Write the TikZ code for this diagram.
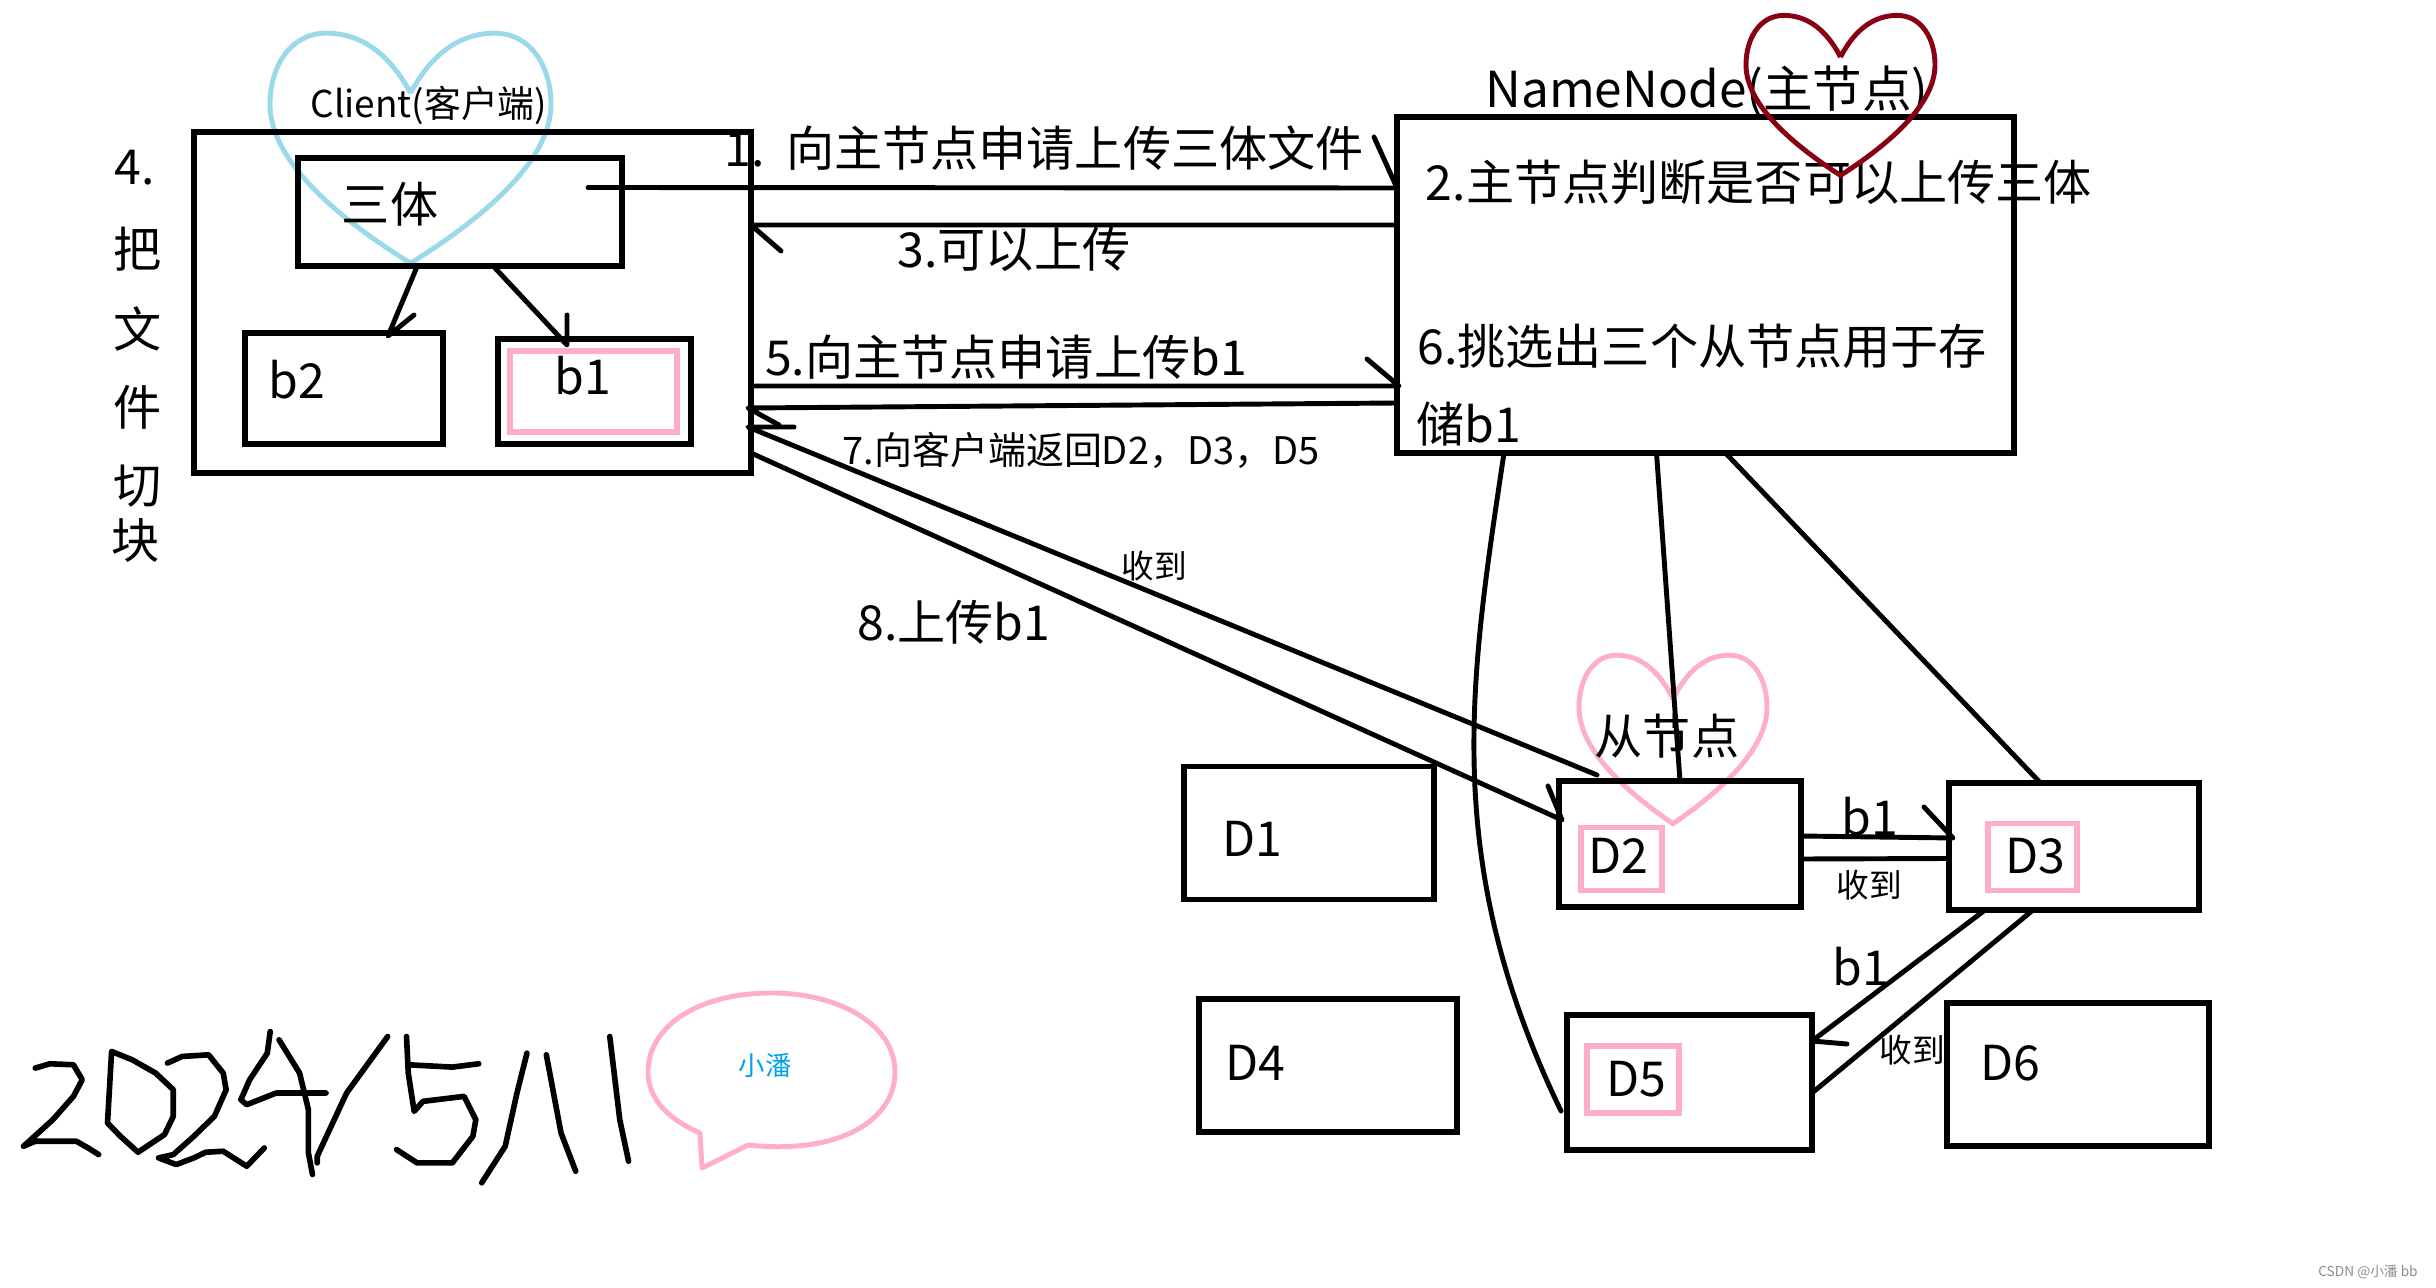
\documentclass[tikz,border=0pt]{standalone}
\usepackage{fontspec}
\setmainfont{Noto Sans CJK SC}
\usetikzlibrary{calc}
\definecolor{heartblue}{HTML}{99D9EA}
\definecolor{rose}{HTML}{FFAEC9}
\definecolor{heartred}{HTML}{880015}
\definecolor{namecyan}{HTML}{00A2E8}
\tikzset{every picture/.style={line width=0.75pt}}

% heart outline: colour, notch point, half width, height
\newcommand{\heartcurve}[4]{
    \draw[heart,#1,shift={(#2)},xscale=#3,yscale=#4] (0,0)
        .. controls (-0.15,0.17) and (-0.35,0.26) .. (-0.6,0.26)
        .. controls (-0.85,0.26) and (-1,0.12) .. (-1,-0.05)
        .. controls (-1,-0.3) and (-0.5,-0.55) .. (0,-0.74)
        .. controls (0.5,-0.55) and (1,-0.3) .. (1,-0.05)
        .. controls (1,0.12) and (0.85,0.26) .. (0.6,0.26)
        .. controls (0.35,0.26) and (0.15,0.17) .. (0,0);
}

\begin{document}
\begin{tikzpicture}[
    box/.style={draw=black,line width=1.45pt,inner sep=0pt,outer sep=0pt},
    mark_box/.style={draw=rose,line width=1.45pt,inner sep=0pt,outer sep=0pt},
    heart/.style={line width=1.4pt},
    link/.style={line width=1.4pt,line join=round,line cap=round},
    ink/.style={line width=1.6pt,line join=round,line cap=round},
    big_text/.style={inner sep=0pt,font=\fontsize{13.7}{16}\selectfont},
    mid_text/.style={inner sep=0pt,font=\fontsize{10.8}{12}\selectfont},
    small_text/.style={inner sep=0pt,font=\fontsize{9.3}{11}\selectfont}
]
    \useasboundingbox (0,0) rectangle (24.36,-12.88);

    % Hearts behind the boxes
    \heartcurve{heartblue}{4.105,-0.93}{1.405}{2.3}
    \heartcurve{rose}{16.73,-6.99}{0.94}{1.685}

    % Client side
    \node[box,minimum width=5.57cm,minimum height=3.41cm] (client) at (4.725,-3.025) {};
    \node[box,minimum width=3.24cm,minimum height=1.08cm] (santi) at (4.6,-2.12) {};
    \node[box,minimum width=1.98cm,minimum height=1.11cm] (block_two) at (3.44,-3.885) {};
    \node[box,minimum width=1.93cm,minimum height=1.05cm] (block_one) at (5.945,-3.915) {};
    \node[mark_box,minimum width=1.67cm,minimum height=0.81cm] (block_mark) at (5.935,-3.915) {};
    \node[inner sep=0pt,font=\fontsize{10.5}{12}\selectfont] (client_name) at (4.29,-1.05) {Client(客户端)};
    \node[big_text] (santi_name) at (3.9,-2.04) {三体};
    \node[big_text] (two_name) at (2.97,-3.8) {b2};
    \node[big_text] (one_name) at (5.83,-3.76) {b1};

    % Vertical caption
    \node[big_text] (cut_a) at (1.35,-1.68) {4.};
    \node[big_text] (cut_b) at (1.38,-2.49) {把};
    \node[big_text] (cut_c) at (1.38,-3.29) {文};
    \node[big_text] (cut_d) at (1.38,-4.07) {件};
    \node[big_text] (cut_e) at (1.38,-4.86) {切};
    \node[big_text] (cut_f) at (1.36,-5.41) {块};

    % NameNode
    \node[box,minimum width=6.17cm,minimum height=3.36cm] (namenode) at (17.055,-2.85) {};
    \node[inner sep=0pt,font=\fontsize{14.1}{16}\selectfont] (namenode_name) at (17.07,-0.92) {NameNode(主节点)};
    \node[big_text] (step_two) at (17.59,-1.82) {2.主节点判断是否可以上传三体};
    \node[big_text,anchor=west] (step_six_a) at (14.16,-3.46) {6.挑选出三个从节点用于存};
    \node[big_text,anchor=west] (step_six_b) at (14.15,-4.24) {储b1};

    % DataNodes
    \node[box,minimum width=2.5cm,minimum height=1.33cm] (d1) at (13.09,-8.33) {};
    \node[box,minimum width=2.42cm,minimum height=1.26cm] (d2) at (16.8,-8.44) {};
    \node[box,minimum width=2.5cm,minimum height=1.27cm] (d3) at (20.74,-8.465) {};
    \node[box,minimum width=2.58cm,minimum height=1.33cm] (d4) at (13.28,-10.655) {};
    \node[box,minimum width=2.45cm,minimum height=1.35cm] (d5) at (16.895,-10.825) {};
    \node[box,minimum width=2.62cm,minimum height=1.43cm] (d6) at (20.78,-10.745) {};
    \node[mark_box,minimum width=0.81cm,minimum height=0.63cm] (d2_mark) at (16.215,-8.59) {};
    \node[mark_box,minimum width=0.89cm,minimum height=0.67cm] (d3_mark) at (20.325,-8.57) {};
    \node[mark_box,minimum width=0.92cm,minimum height=0.67cm] (d5_mark) at (16.33,-10.795) {};
    \node[big_text] (d1_name) at (12.52,-8.39) {D1};
    \node[big_text] (d2_name) at (16.18,-8.56) {D2};
    \node[big_text] (d3_name) at (20.35,-8.56) {D3};
    \node[big_text] (d4_name) at (12.55,-10.63) {D4};
    \node[big_text] (d5_name) at (16.36,-10.79) {D5};
    \node[big_text] (d6_name) at (20.1,-10.63) {D6};
    \node[big_text] (slave_name) at (16.67,-7.36) {从节点};

    % Split arrows
    \draw[link] ($(santi.south)+(-0.435,-0.02)$) -- ($(block_two.north)+(0.44,-0.03)$) -- ++(0.26,0.21);
    \draw[link] ($(santi.south)+(0.35,-0.02)$) -- ($(block_one.north)+(-0.275,-0.06)$) -- ++(0,0.3);

    % Client <-> NameNode
    \draw[link] ($(santi.east)+(-0.34,0.245)$) -- ($(namenode.north west)+(0,-0.71)$) -- ++(-0.23,0.51);
    \draw[link] ($(namenode.north west)+(0,-1.08)$) -- ($(client.north east)+(0,-0.93)$) -- ++(0.3,-0.26);
    \draw[link] ($(client.south east)+(0.03,0.87)$) -- ($(namenode.south west)+(0.02,0.67)$) -- ++(-0.32,0.27);
    \draw[link] ($(namenode.south west)+(0,0.5)$) -- ($(client.south east)+(-0.03,0.65)$) -- ++(0.31,-0.17);
    \node[big_text,anchor=west] (step_one) at (7.23,-1.48) {1.\ \ 向主节点申请上传三体文件};
    \node[big_text] (step_three) at (10.14,-2.49) {3.可以上传};
    \node[big_text] (step_five) at (10.06,-3.57) {5.向主节点申请上传b1};
    \node[mid_text] (step_seven) at (10.81,-4.5) {7.向客户端返回D2，D3，D5};

    % Client <-> D2
    \draw[link] ($(d2.north west)+(0.38,0.06)$) -- ($(client.south east)+(-0.03,0.46)$) -- ++(0.46,0);
    \draw[link] ($(client.south east)+(0,0.2)$) -- ($(d2.north west)+(0.03,-0.39)$) -- ++(-0.14,0.34);
    \node[small_text] (got_client) at (11.54,-5.66) {收到};
    \node[big_text] (step_eight) at (9.54,-6.22) {8.上传b1};

    % NameNode to the chosen DataNodes
    \draw[link] ($(namenode.south west)+(1.07,0)$) .. controls (14.7,-6.8) and (14.4,-8.6) .. ($(d5.north west)+(-0.06,-0.96)$);
    \draw[link] ($(namenode.south)+(-0.49,0)$) -- (d2.north);
    \draw[link] ($(namenode.south)+(0.2,0)$) -- ($(d3.north)+(-0.335,0)$);

    % D2 <-> D3
    \draw[link] ($(d2.east)+(0,0.08)$) -- ($(d3.west)+(0.04,0.085)$) -- ++(-0.29,0.31);
    \draw[link] ($(d3.west)+(0,-0.12)$) -- ($(d2.east)+(0,-0.15)$);
    \node[big_text] (b1_top) at (18.7,-8.17) {b1};
    \node[small_text] (got_d3) at (18.69,-8.85) {收到};

    % D3 <-> D5
    \draw[link] ($(d3.south west)+(0.36,0)$) -- ($(d5.east)+(0,0.415)$) -- ++(0.35,-0.03);
    \draw[link] ($(d5.east)+(0,-0.105)$) -- ($(d3.south west)+(0.84,0)$);
    \node[big_text] (b1_low) at (18.61,-9.67) {b1};
    \node[small_text] (got_d5) at (19.12,-10.5) {收到};

    % Red heart on top of the text
    \heartcurve{heartred}{18.405,-0.57}{0.945}{1.6}

    % Handwritten date
    \begin{scope}[shift={(0,-9.6)},x=0.00587cm,y=-0.00333cm]
        \draw[ink] (60,325) -- (85,312) -- (125,315) -- (140,360) -- (125,410) -- (90,480) -- (40,560) -- (60,545) -- (130,545) -- (150,565) -- (168,585);
        \draw[ink] (190,275) -- (183,490) -- (205,530) -- (235,578) -- (280,525) -- (295,470) -- (295,390) -- (265,340) -- (225,300) -- cycle;
        \draw[ink] (285,310) -- (310,290) -- (355,285) -- (380,340) -- (385,390) -- (365,470) -- (330,530) -- (295,585) -- (270,595) -- (300,615) -- (330,595) -- (350,578) -- (380,575) -- (420,620) -- (450,565);
        \draw[ink] (460,215) -- (455,280) -- (425,360) -- (410,420) -- (420,435) -- (470,400) -- (555,400);
        \draw[ink] (475,240) -- (510,340) -- (525,450) -- (525,580) -- (532,645);
        \draw[ink] (660,230) -- (590,400) -- (540,590) -- (540,610);
        \draw[ink] (692,230) -- (695,340) -- (705,455) -- (720,425) -- (790,410) -- (810,480) -- (805,530) -- (770,610) -- (710,610) -- (675,570);
        \draw[ink] (695,315) -- (770,322) -- (815,312);
        \draw[ink] (897,280) -- (880,400) -- (860,560) -- (820,670);
        \draw[ink] (930,285) -- (955,520) -- (980,635);
        \draw[ink] (1038,230) -- (1055,480) -- (1070,605);
    \end{scope}

    % Speech bubble
    \draw[heart,rose,line join=round] (7.48,-11.45) .. controls (8.4,-11.55) and (8.95,-11.2) .. (8.95,-10.72)
        .. controls (8.95,-10.25) and (8.4,-9.93) .. (7.71,-9.93)
        .. controls (7,-9.93) and (6.48,-10.25) .. (6.48,-10.72)
        .. controls (6.48,-11) and (6.7,-11.2) .. (7,-11.33) -- (7.02,-11.68) -- cycle;
    \node[inner sep=0pt,text=namecyan,font=\fontsize{7.5}{9}\selectfont] (bubble_name) at (7.65,-10.65) {小潘};

    % Corner credit
    \node[inner sep=0pt,text=black!45,font=\fontsize{3.9}{4}\selectfont] (credit) at (23.68,-12.72) {CSDN @小潘 bb};
\end{tikzpicture}
\end{document}
